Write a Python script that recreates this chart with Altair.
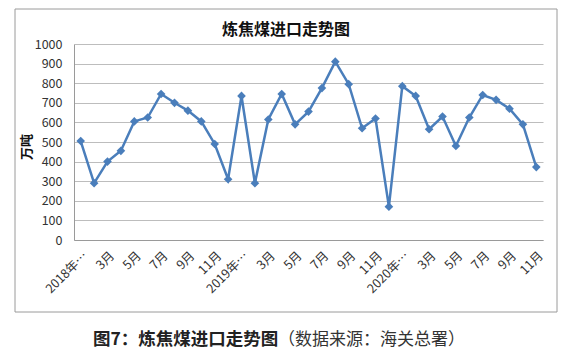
import altair as alt
import pandas as pd

# Monthly coking coal imports (10k tonnes), 2018-01 .. 2020-11
months = (
    [f"2018年{m}月" for m in range(1, 13)]
    + [f"2019年{m}月" for m in range(1, 13)]
    + [f"2020年{m}月" for m in range(1, 12)]
)
values = [
    505, 290, 400, 455, 605, 625, 745, 700, 660, 605, 490, 310,
    735, 290, 615, 745, 590, 655, 775, 910, 795, 570, 620, 170,
    785, 735, 565, 630, 480, 625, 740, 715, 670, 590, 372,
]
tick_labels = [
    "2018年…", "3月", "5月", "7月", "9月", "11月",
    "2019年…", "3月", "5月", "7月", "9月", "11月",
    "2020年…", "3月", "5月", "7月", "9月", "11月",
]
y_ticks = list(range(0, 1001, 100))

title_text = "炼焦煤进口走势图"
y_title = "万吨"
caption_bold = "图7：炼焦煤进口走势图"
caption_normal = "（数据来源：海关总署）"

FONT = "Noto Sans CJK SC"
BLUE = "#4a7ebb"

df = pd.DataFrame({"idx": list(range(len(values))), "month": months, "value": values})
tick_vals = list(range(0, len(values), 2))
label_expr = "[" + ",".join(f"'{s}'" for s in tick_labels) + "][round(datum.value/2)]"

x_enc = alt.X(
    "idx:Q",
    scale=alt.Scale(domain=[-0.5, len(values) - 0.5], nice=False, zero=False),
    axis=alt.Axis(
        values=tick_vals, labelExpr=label_expr, labelAngle=-45, grid=False,
        ticks=False, domainColor="#9a9a9a", labelFont=FONT, labelFontSize=12.5,
        labelColor="#333333", labelPadding=9, title=None,
        labelOverlap=False, labelBound=False, labelFlush=False,
    ),
)
y_enc = alt.Y(
    "value:Q",
    scale=alt.Scale(domain=[0, 1000], nice=False),
    axis=alt.Axis(
        values=y_ticks, format="d", grid=True, gridColor="#bdbdbd", ticks=False,
        domainColor="#9a9a9a", labelFont=FONT, labelFontSize=12.5,
        labelColor="#333333", labelPadding=12, title=None,
        labelOverlap=False, labelBound=False, labelFlush=False,
    ),
)

base = alt.Chart(df)
line = base.mark_line(color=BLUE, strokeWidth=2.5).encode(x=x_enc, y=y_enc)
pts = base.mark_point(shape="diamond", filled=True, size=75, color=BLUE, opacity=1).encode(
    x=x_enc, y=y_enc, tooltip=["month", "value"]
)

one = alt.Data(values=[{"a": 1}])
frame = alt.Chart(one).mark_rect(fillOpacity=0, stroke="#9a9a9a", strokeWidth=1).encode(
    x=alt.value(-59), x2=alt.value(483), y=alt.value(-35), y2=alt.value(268)
)
title = alt.Chart(one).mark_text(
    text=title_text, font=FONT, fontSize=16, fontWeight="bold", color="#111111",
    align="center", baseline="middle",
).encode(x=alt.value(212), y=alt.value(-14))
ytitle = alt.Chart(one).mark_text(
    text=y_title, font=FONT, fontSize=13, fontWeight="bold", color="#111111",
    align="center", baseline="middle", angle=270,
).encode(x=alt.value(-47), y=alt.value(103))
cap1 = alt.Chart(one).mark_text(
    text=caption_bold, font=FONT, fontSize=17.5, fontWeight="bold", color="#222222",
    align="left", baseline="middle",
).encode(x=alt.value(19), y=alt.value(296))
cap2 = alt.Chart(one).mark_text(
    text=caption_normal, font=FONT, fontSize=17, fontWeight="normal", color="#333333",
    align="left", baseline="middle",
).encode(x=alt.value(204), y=alt.value(296))

chart = alt.layer(line, pts, frame, title, ytitle, cap1, cap2).properties(
    width=469, height=196,
    autosize=alt.AutoSizeParams(type="none"),
    padding={"left": 74, "top": 44, "right": 29, "bottom": 118},
    background="white",
).configure_view(stroke=None).configure_axis(
    labelOverlap=False, labelBound=False, labelFlush=False
)

chart.save("out.html", embed_options={"renderer": "svg", "actions": False})
